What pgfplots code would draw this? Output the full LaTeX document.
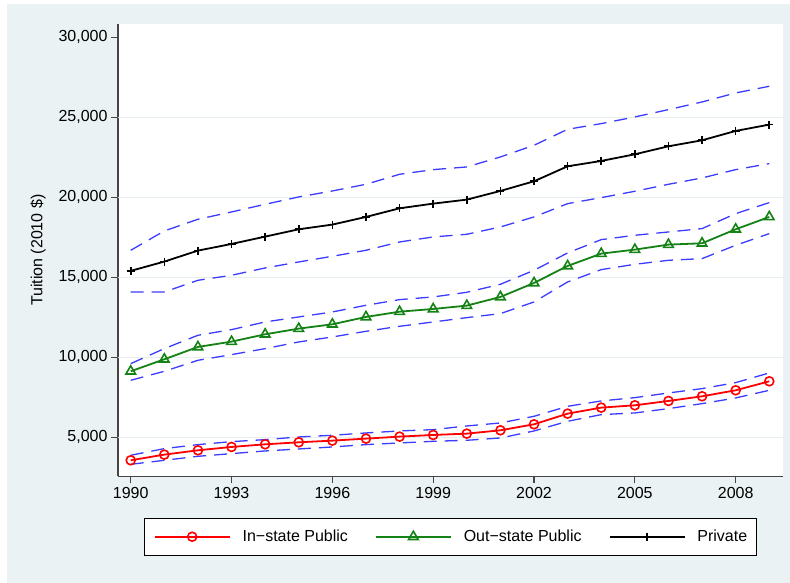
\documentclass[border=0pt]{standalone}
\usepackage{fontspec}
\setmainfont{Liberation Sans}
\usepackage{pgfplots}
\usepackage{pgfplotstable}
\pgfplotsset{compat=1.18}
\definecolor{bgc}{HTML}{EAF2F3}
\definecolor{gridc}{HTML}{E6EEEF}
\definecolor{sred}{RGB}{255,0,0}
\definecolor{sgreen}{RGB}{20,130,20}
\definecolor{sblue}{RGB}{60,60,255}
\definecolor{axc}{RGB}{70,70,70}
\pgfplotstableread{
year inst inlo inhi out outlo outhi priv privlo privhi
1990 3562 3312 3875 9125 8562 9604 15400 14083 16687
1991 3917 3562 4292 9875 9125 10542 15981 14083 17896
1992 4187 3812 4542 10646 9812 11375 16667 14812 18625
1993 4396 3979 4729 10979 10167 11729 17083 15125 19083
1994 4562 4146 4854 11437 10542 12208 17542 15583 19562
1995 4687 4271 5021 11792 10958 12521 18000 15958 20021
1996 4792 4396 5125 12062 11271 12833 18292 16312 20396
1997 4917 4542 5271 12521 11625 13250 18771 16687 20812
1998 5042 4646 5396 12850 11937 13604 19312 17208 21437
1999 5146 4750 5479 13020 12206 13771 19604 17521 21729
2000 5229 4812 5708 13229 12479 14062 19854 17687 21896
2001 5437 4958 5896 13771 12729 14562 20396 18146 22521
2002 5812 5396 6312 14646 13458 15437 21000 18771 23250
2003 6479 6000 6937 15708 14708 16521 21937 19604 24250
2004 6854 6417 7271 16479 15479 17354 22271 19979 24604
2005 7000 6521 7479 16729 15812 17625 22687 20375 25021
2006 7271 6792 7771 17042 16062 17833 23187 20812 25479
2007 7562 7104 8042 17125 16167 18042 23562 21208 25958
2008 7937 7458 8417 18000 17000 18979 24146 21729 26521
2009 8500 7937 9021 18771 17729 19667 24542 22104 26937
}\datatable
\begin{document}
\begin{tikzpicture}[font=\fontsize{16}{19}\selectfont]
\useasboundingbox (0,0) rectangle (790pt,583pt);
\fill[white] (0,0) rectangle (790pt,583pt);
\fill[bgc] (7pt,0) rectangle (790pt,579pt);
\begin{axis}[
  at={(118pt,106.5pt)}, anchor=south west,
  scale only axis, width=665pt, height=452.5pt,
  axis background/.style={fill=white},
  xmin=1989.622, xmax=2009.408,
  ymin=2550, ymax=30830,
  axis x line*=bottom, axis y line*=left,
  axis line style={draw=axc, line width=1.4pt, -},
  xtick={1990,1993,...,2008},
  ytick={5000,10000,...,30000},
  extra y ticks={5000,10000,15000,20000,25000},
  extra y tick labels={},
  extra y tick style={grid=major, major tick length=0pt},
  grid style={draw=gridc, line width=1.5pt},
  tick align=outside,
  major tick length=7pt,
  tick style={draw=axc, line width=1.2pt},
  scaled y ticks=false,
  /pgf/number format/assume math mode=true,
  xticklabel style={/pgf/number format/1000 sep={}},
  yticklabel style={/pgf/number format/fixed, /pgf/number format/1000 sep={,}},
  ylabel={Tuition (2010 \$)},
  every axis y label/.style={at={(axis description cs:-0.1203,0.5)}, rotate=90, anchor=center},
  legend columns=3,
  legend style={at={(0.5,-0.091)}, anchor=north, draw=black, line width=1pt, fill=white,
    inner xsep=9pt, inner ysep=10pt,
    nodes={inner xsep=0pt, inner ysep=2pt},
    /tikz/every odd column/.append style={column sep=12pt},
    /tikz/every even column/.append style={column sep=27pt}},
  legend image code/.code={\draw[mark repeat=2,mark phase=2,#1] plot coordinates {(0pt,0pt) (37.5pt,0pt) (75pt,0pt)};},
]
\addplot[sblue, line width=1.3pt, dash pattern=on 13pt off 8pt, forget plot] table[x=year,y=inlo]{\datatable};
\addplot[sblue, line width=1.3pt, dash pattern=on 13pt off 8pt, forget plot] table[x=year,y=inhi]{\datatable};
\addplot[sblue, line width=1.3pt, dash pattern=on 13pt off 8pt, forget plot] table[x=year,y=outlo]{\datatable};
\addplot[sblue, line width=1.3pt, dash pattern=on 13pt off 8pt, forget plot] table[x=year,y=outhi]{\datatable};
\addplot[sblue, line width=1.3pt, dash pattern=on 13pt off 8pt, forget plot] table[x=year,y=privlo]{\datatable};
\addplot[sblue, line width=1.3pt, dash pattern=on 13pt off 8pt, forget plot] table[x=year,y=privhi]{\datatable};
\addplot[sred, line width=1.8pt, mark=o, mark size=4.5pt, mark options={solid, line width=1.6pt}] table[x=year,y=inst]{\datatable};
\addlegendentry{In\textminus state Public}
\addplot[sgreen, line width=1.8pt, mark=triangle, mark size=5.5pt, mark options={solid, line width=1.6pt}] table[x=year,y=out]{\datatable};
\addlegendentry{Out\textminus state Public}
\addplot[black, line width=1.8pt, mark=+, mark size=4pt, mark options={solid, line width=1.6pt}] table[x=year,y=priv]{\datatable};
\addlegendentry{Private}
\end{axis}
\end{tikzpicture}
\end{document}
